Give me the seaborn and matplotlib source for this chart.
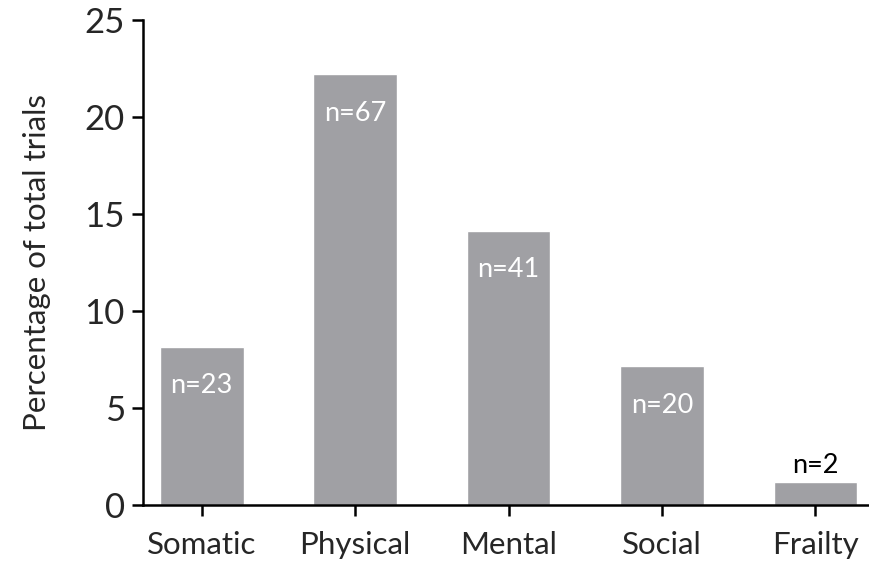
import matplotlib
matplotlib.use("Agg")
import matplotlib.pyplot as plt
import pandas as pd
import seaborn as sns

categories = ["Somatic", "Physical", "Mental", "Social", "Frailty"]
percentages = [8.15, 22.2, 14.15, 7.15, 1.2]
counts = [23, 67, 41, 20, 2]

BAR_COLOR = "#a0a0a4"

sns.set_style("ticks")
plt.rcParams["font.family"] = ["Lato", "DejaVu Sans"]

df = pd.DataFrame({"category": categories, "percent": percentages, "n": counts})

fig = plt.figure(figsize=(8.69, 5.61), dpi=100)
ax = fig.add_axes([0.1646, 0.0998, 0.8354, 0.8645])

sns.barplot(data=df, x="category", y="percent", order=categories,
            color=BAR_COLOR, saturation=1, width=0.545, ax=ax)

# counts sit inside tall bars, above the short one
for i, (pct, n) in enumerate(zip(percentages, counts)):
    if pct > 4:
        ax.text(i, pct - 2.0, f"n={n}", ha="center", va="center",
                color="white", fontsize=19.5)
    else:
        ax.text(i, pct + 0.2, f"n={n}", ha="center", va="bottom",
                color="black", fontsize=19.5)

ax.set_ylim(0, 25)
ax.set_yticks([0, 5, 10, 15, 20, 25])
ax.set_xlim(-0.383, 4.35)
ax.set_xlabel("")
ax.set_ylabel("Percentage of total trials", fontsize=22.5, labelpad=24)
ax.tick_params(axis="both", width=1.8, length=8, color="black")
ax.tick_params(axis="y", labelsize=25, pad=5)
ax.tick_params(axis="x", labelsize=22.5, pad=11)
for side in ["left", "bottom"]:
    ax.spines[side].set_linewidth(1.8)
    ax.spines[side].set_color("black")
ax.spines["top"].set_visible(False)
ax.spines["right"].set_visible(False)

fig.savefig("out.png", dpi=100)
